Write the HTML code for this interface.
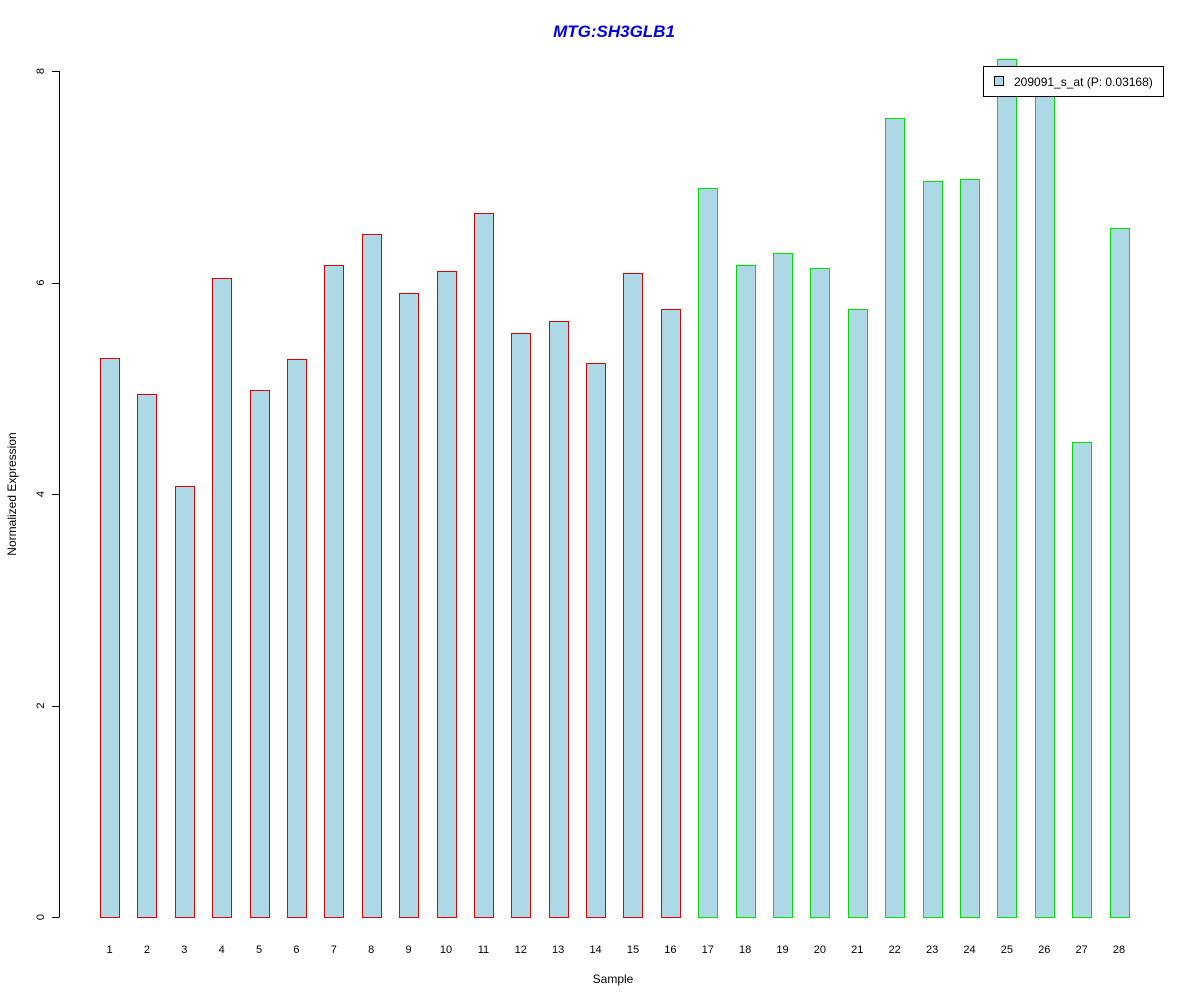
<!DOCTYPE html>
<html><head><meta charset="utf-8"><style>
body{margin:0;background:#fff;}
svg{display:block;font-family:"Liberation Sans",Arial,sans-serif;}
</style></head><body>
<svg id="chart" width="1200" height="1000" viewBox="0 0 1200 1000">
<text x="614" y="37" text-anchor="middle" font-size="17" font-weight="bold" font-style="italic" fill="#0000ee">MTG:SH3GLB1</text>
<text x="613" y="983" text-anchor="middle" font-size="12" fill="#000">Sample</text>
<text transform="translate(16,494) rotate(-90)" text-anchor="middle" font-size="12" fill="#000">Normalized Expression</text>
<g id="axis"></g>
<g id="bars"></g>
<g id="xlabels"></g>
<g>
<rect x="983.5" y="66.5" width="180" height="30" fill="#fff" stroke="#000" stroke-width="1"/>
<rect x="994.5" y="76.5" width="9" height="9" fill="#add8e6" stroke="#000" stroke-width="1"/>
<text x="1014" y="86" font-size="12" fill="#000">209091_s_at (P: 0.03168)</text>
</g>
</svg>
<script>
const categories = ["1","2","3","4","5","6","7","8","9","10","11","12","13","14","15","16","17","18","19","20","21","22","23","24","25","26","27","28"];
const values = [5.29,4.95,4.08,6.04,4.98,5.28,6.17,6.46,5.90,6.11,6.66,5.52,5.64,5.24,6.09,5.75,6.89,6.17,6.28,6.14,5.75,7.56,6.96,6.98,8.11,8.0,4.49,6.52];
const groups = ["a","a","a","a","a","a","a","a","a","a","a","a","a","a","a","a","b","b","b","b","b","b","b","b","b","b","b","b"];
const yTicks = [0,2,4,6,8];
const NS = "http://www.w3.org/2000/svg";
const y = v => 917 - v * 105.75;
const x = i => 109.5 + i * 37.39;
const bw = 19;
const ax = document.getElementById('axis');
const bars = document.getElementById('bars');
const xl = document.getElementById('xlabels');
function mk(tag, attrs, parent){const e=document.createElementNS(NS,tag);for(const k in attrs)e.setAttribute(k,attrs[k]);parent.appendChild(e);return e;}
const axl = mk('line',{x1:59.5,x2:59.5,y1:y(8),y2:y(0),stroke:'#000'},ax);


yTicks.forEach(t=>{
  const tk = mk('line',{x1:52,x2:59.5,y1:Math.round(y(t))+0.5,y2:Math.round(y(t))+0.5,stroke:'#000'},ax);
  
  
  const tl = mk('text',{transform:`translate(44,${y(t)}) rotate(-90)`,'text-anchor':'middle','font-size':11},ax);
  
  
  tl.textContent = t;
});
values.forEach((v,i)=>{
  const r = mk('rect',{x:Math.round(x(i)-bw/2)+0.5,y:Math.round(y(v))+0.5,width:bw,height:Math.round(y(0))-Math.round(y(v)),fill:'#add8e6',stroke:groups[i]==='a'?'#e00000':'#00e000','stroke-width':1},bars);
  
  
  const t = mk('text',{x:x(i),y:953,'text-anchor':'middle','font-size':11},xl);
  
  
  t.textContent = categories[i];
});
</script>
</body></html>
